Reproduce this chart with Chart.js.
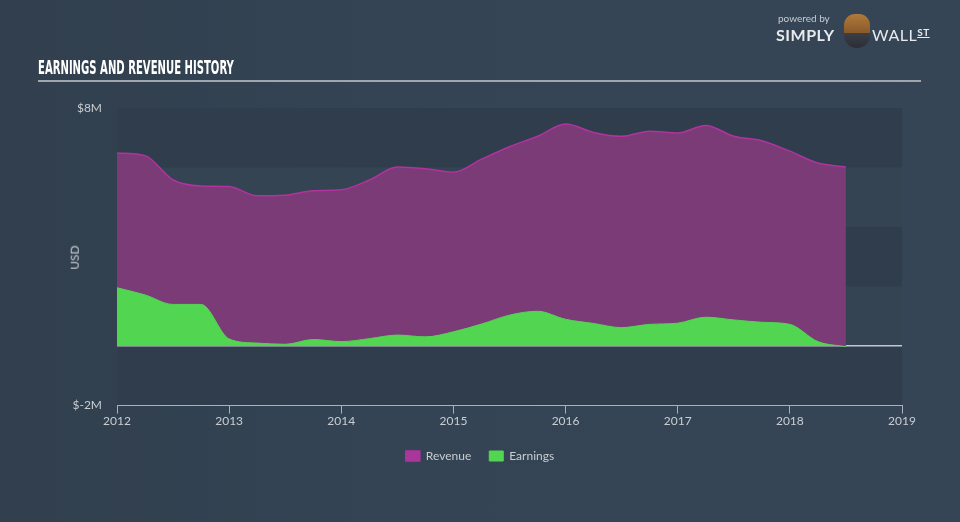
<!DOCTYPE html>
<html>
<head>
<meta charset="utf-8">
<script src="https://cdn.jsdelivr.net/npm/chart.js@4"></script>
<style>
  html, body { margin: 0; padding: 0; }
  body {
    width: 960px; height: 522px; overflow: hidden; position: relative;
    background: linear-gradient(90deg, #313f4e 0%, #344454 40%, #354555 100%);
    font-family: Lato, "Open Sans", sans-serif;
  }
  #chart { position: absolute; left: 0; top: 0; }
  .title {
    position: absolute; left: 38px; top: 55px;
    font-family: "Liberation Sans Narrow", "DejaVu Sans Condensed", sans-serif;
    font-weight: bold; font-size: 20px; color: #ffffff;
    transform: scaleX(0.56); transform-origin: 0 0; white-space: nowrap;
  }
  .rule { position: absolute; left: 38px; top: 80px; width: 883px; height: 2px; background: #a0a6ad; }
  .usd {
    position: absolute; left: 62px; top: 250px; transform: rotate(-90deg);
    color: #c9cdd2; font-size: 12px;
  }
  .logo { position: absolute; left: 776px; top: 10px; color: #e8eaec; }
  .logo .pb { position: absolute; left: 2px; top: 2px; font-size: 10px; color: #c8ccd0; white-space: nowrap; }
  .logo .simply { position: absolute; left: 0; top: 15px; font-size: 16px; font-weight: bold; letter-spacing: 0.5px; }
  .logo .bull { position: absolute; left: 68px; top: 4px; width: 26px; height: 34px; border-radius: 12px 12px 14px 14px;
    background: linear-gradient(180deg, #b07a3a 0%, #8a5a2a 55%, #3b3f45 56%, #2b2f35 100%); }
  .logo .wall { position: absolute; left: 96px; top: 15px; font-size: 16px; letter-spacing: 0.5px; white-space: nowrap; }
  .logo .wall span { font-size: 10px; font-weight: bold; text-decoration: underline; vertical-align: 5px; }
</style>
</head>
<body>
<canvas id="chart" width="960" height="522"></canvas>
<div class="title">EARNINGS AND REVENUE HISTORY</div>
<div class="rule"></div>
<div class="usd">USD</div>
<div class="logo">
  <div class="pb">powered by</div>
  <div class="simply">SIMPLY</div>
  <div class="bull"></div>
  <div class="wall">WALL<span>ST</span></div>
</div>
<script>
// quarterly dates (decimal years)
const dates = [2012.0, 2012.25, 2012.5, 2012.75, 2013.0, 2013.25, 2013.5, 2013.75,
  2014.0, 2014.25, 2014.5, 2014.75, 2015.0, 2015.25, 2015.5, 2015.75,
  2016.0, 2016.25, 2016.5, 2016.75, 2017.0, 2017.25, 2017.5, 2017.75,
  2018.0, 2018.25, 2018.5];

// values in $M
const revenue = [6.49, 6.40, 5.58, 5.38, 5.36, 5.05, 5.07, 5.22,
  5.25, 5.58, 6.02, 5.96, 5.84, 6.28, 6.70, 7.05,
  7.46, 7.18, 7.05, 7.22, 7.16, 7.41, 7.05, 6.90,
  6.55, 6.15, 6.02];

const earnings = [1.96, 1.72, 1.40, 1.40, 0.24, 0.10, 0.06, 0.22,
  0.15, 0.25, 0.37, 0.31, 0.48, 0.74, 1.04, 1.17,
  0.90, 0.76, 0.62, 0.73, 0.77, 0.97, 0.88, 0.80,
  0.73, 0.15, -0.02];

const yearTicks = [2012, 2013, 2014, 2015, 2016, 2017, 2018, 2019];
const yLabels = { "8": "$8M", "-2": "$-2M" };

function toPoints(values) {
  return dates.map((d, i) => ({ x: d, y: values[i] }));
}

// alternating horizontal bands behind the plot
const bandsPlugin = {
  id: "bands",
  beforeDraw(chart) {
    const { ctx, chartArea, scales } = chart;
    const y = scales.y;
    for (let v = 8, k = 0; v > -2; v -= 2, k++) {
      const top = y.getPixelForValue(v);
      const bottom = y.getPixelForValue(v - 2);
      ctx.fillStyle = k % 2 === 0 ? "#2f3d4c" : "#344452";
      ctx.fillRect(chartArea.left, top, chartArea.right - chartArea.left, bottom - top);
    }
  }
};

new Chart(document.getElementById("chart").getContext("2d"), {
  type: "line",
  data: {
    datasets: [{
      label: "Revenue",
      data: toPoints(revenue),
      borderColor: "#b2329f",
      backgroundColor: "#a8379c",
      borderWidth: 1.5,
      pointRadius: 0,
      tension: 0.4,
      cubicInterpolationMode: "monotone",
      fill: { target: "origin", above: "#7a3b76", below: "#7a3b76" },
      order: 2
    }, {
      label: "Earnings",
      data: toPoints(earnings),
      borderColor: "#52d652",
      backgroundColor: "#52d652",
      borderWidth: 1,
      pointRadius: 0,
      tension: 0.4,
      cubicInterpolationMode: "monotone",
      fill: { target: "origin", above: "#52d652", below: "#e0403a" },
      order: 1
    }]
  },
  options: {
    responsive: false,
    animation: false,
    layout: { padding: { top: 108, right: 0, bottom: 50, left: 0 } },
    plugins: {
      tooltip: { enabled: false },
      legend: {
        position: "bottom",
        labels: {
          color: "#c9cdd2",
          font: { family: "Lato", size: 12 },
          boxWidth: 14,
          boxHeight: 10,
          padding: 18,
          sort: (a, b) => a.datasetIndex - b.datasetIndex
        }
      }
    },
    scales: {
      x: {
        type: "linear",
        min: 2012,
        max: 2019,
        afterBuildTicks(scale) {
          scale.ticks = yearTicks.map(v => ({ value: v }));
        },
        afterFit(scale) { scale.height = scale.height + 4; },
        grid: { drawOnChartArea: false, drawTicks: true, tickLength: 8, color: "#a9b1ba" },
        border: { display: true, color: "#a9b1ba", width: 1 },
        ticks: {
          color: "#c9cdd2",
          font: { family: "Lato", size: 12 },
          padding: 0,
          maxRotation: 0,
          callback: v => String(v)
        }
      },
      y: {
        min: -2,
        max: 8,
        afterFit(scale) { scale.width = 117; },
        ticks: {
          stepSize: 2,
          color: "#c9cdd2",
          font: { family: "Lato", size: 12 },
          padding: 15,
          callback: v => yLabels[String(v)] || ""
        },
        grid: {
          drawTicks: false,
          lineWidth: 1.5,
          color: ctx => ctx.tick && ctx.tick.value === 0 ? "#c3c8ce" : "rgba(0,0,0,0)"
        },
        border: { display: false }
      },
      // empty right-hand gutter so the plot ends where the reference does
      gutter: {
        type: "linear",
        position: "right",
        min: 0,
        max: 1,
        afterFit(scale) { scale.width = 58; },
        grid: { display: false },
        border: { display: false },
        ticks: { display: false }
      }
    }
  },
  plugins: [bandsPlugin]
});
</script>
</body>
</html>
